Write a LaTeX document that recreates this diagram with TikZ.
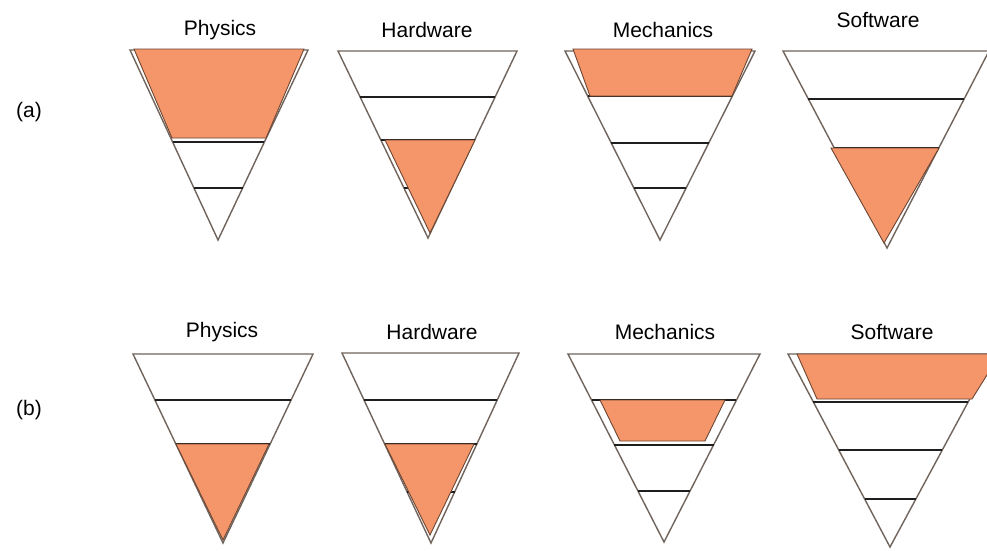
\documentclass[tikz,border=0pt]{standalone}
\usepackage{fontspec}
\setmainfont{Liberation Sans}
\usetikzlibrary{calc}
\definecolor{hotfill}{RGB}{244,150,106}
\definecolor{hotedge}{RGB}{110,70,50}
\definecolor{triedge}{RGB}{112,100,92}
\definecolor{bandline}{RGB}{30,30,30}
\tikzset{
  tri/.style={draw=triedge, line width=1.4pt, line join=miter, fill=white},
  band/.style={draw=bandline, line width=1.3pt},
  hot/.style={fill=hotfill, draw=hotedge, line width=0.9pt, line join=miter},
  lbl/.style={font=\fontsize{21}{24}\selectfont, inner sep=0pt, text=black},
  rowlbl/.style={font=\fontsize{21}{25}\selectfont, inner sep=0pt, text=black}
}
% #1 TL, #2 TR, #3 apex
\newcommand{\invtri}[3]{\draw[tri] #1 -- #2 -- #3 -- cycle;}
% band line at fraction #4 from top to apex
\newcommand{\bandat}[4]{\draw[band] ($#1!#4!#3$) -- ($#2!#4!#3$);}
\begin{document}
\begin{tikzpicture}[x=1pt,y=-1pt]
\useasboundingbox (0,0) rectangle (987,550);
\clip (0,0) rectangle (987,550);
\fill[white] (0,0) rectangle (987,550);

% row labels
\node[rowlbl] (rowa) at (29,112) {(a)};
\node[rowlbl] (rowb) at (29,410) {(b)};

% ---------- row (a) ----------
\node[lbl] (physa) at (220,30) {Physics};
\node[lbl] (harda) at (427,30) {Hardware};
\node[lbl] (mecha) at (663,30) {Mechanics};
\node[lbl] (softa) at (878,20) {Software};

% Physics (a)
\invtri{(130,50)}{(308,50)}{(218,240)}
\bandat{(130,50)}{(308,50)}{(218,240)}{0.484}
\bandat{(130,50)}{(308,50)}{(218,240)}{0.726}
\draw[hot] (134,49) -- (304,49) -- (266,138) -- (172,138) -- cycle;

% Hardware (a)
\invtri{(338,51)}{(517,51)}{(428,238)}
\bandat{(338,51)}{(517,51)}{(428,238)}{0.246}
\bandat{(338,51)}{(517,51)}{(428,238)}{0.476}
\bandat{(338,51)}{(517,51)}{(428,238)}{0.733}
\draw[hot] (385,140) -- (475,140) -- (430,233) -- cycle;

% Mechanics (a)
\invtri{(565,51)}{(755,51)}{(660,240)}
\bandat{(565,51)}{(755,51)}{(660,240)}{0.238}
\bandat{(565,51)}{(755,51)}{(660,240)}{0.487}
\bandat{(565,51)}{(755,51)}{(660,240)}{0.725}
\draw[hot] (573,49) -- (752,49) -- (732,96) -- (590,96) -- cycle;

% Software (a)
\invtri{(783,51)}{(989,51)}{(887,248)}
\bandat{(783,51)}{(989,51)}{(887,248)}{0.244}
\bandat{(783,51)}{(989,51)}{(887,248)}{0.492}
\draw[hot] (831,148) -- (939,148) -- (884,243) -- cycle;

% ---------- row (b) ----------
\node[lbl] (physb) at (222,332) {Physics};
\node[lbl] (hardb) at (432,332) {Hardware};
\node[lbl] (mechb) at (665,332) {Mechanics};
\node[lbl] (softb) at (892,332) {Software};

% Physics (b)
\invtri{(133,354)}{(313,354)}{(223,543)}
\bandat{(133,354)}{(313,354)}{(223,543)}{0.243}
\bandat{(133,354)}{(313,354)}{(223,543)}{0.476}
\draw[hot] (176,444) -- (269,444) -- (223,540) -- cycle;

% Hardware (b)
\invtri{(342,353)}{(519,353)}{(431,543)}
\bandat{(342,353)}{(519,353)}{(431,543)}{0.247}
\bandat{(342,353)}{(519,353)}{(431,543)}{0.479}
\bandat{(342,353)}{(519,353)}{(431,543)}{0.732}
\draw[hot] (385,444) -- (474,444) -- (430,535) -- cycle;

% Mechanics (b)
\invtri{(568,354)}{(760,354)}{(664,542)}
\bandat{(568,354)}{(760,354)}{(664,542)}{0.245}
\bandat{(568,354)}{(760,354)}{(664,542)}{0.484}
\bandat{(568,354)}{(760,354)}{(664,542)}{0.729}
\draw[hot] (600,400) -- (725,400) -- (705,441) -- (620,441) -- cycle;

% Software (b)
\invtri{(788,354)}{(994,354)}{(890,547)}
\bandat{(788,354)}{(994,354)}{(890,547)}{0.249}
\bandat{(788,354)}{(994,354)}{(890,547)}{0.497}
\bandat{(788,354)}{(994,354)}{(890,547)}{0.751}
\draw[hot] (797,354) -- (1000,354) -- (972,399) -- (817,399) -- cycle;
\end{tikzpicture}
\end{document}
